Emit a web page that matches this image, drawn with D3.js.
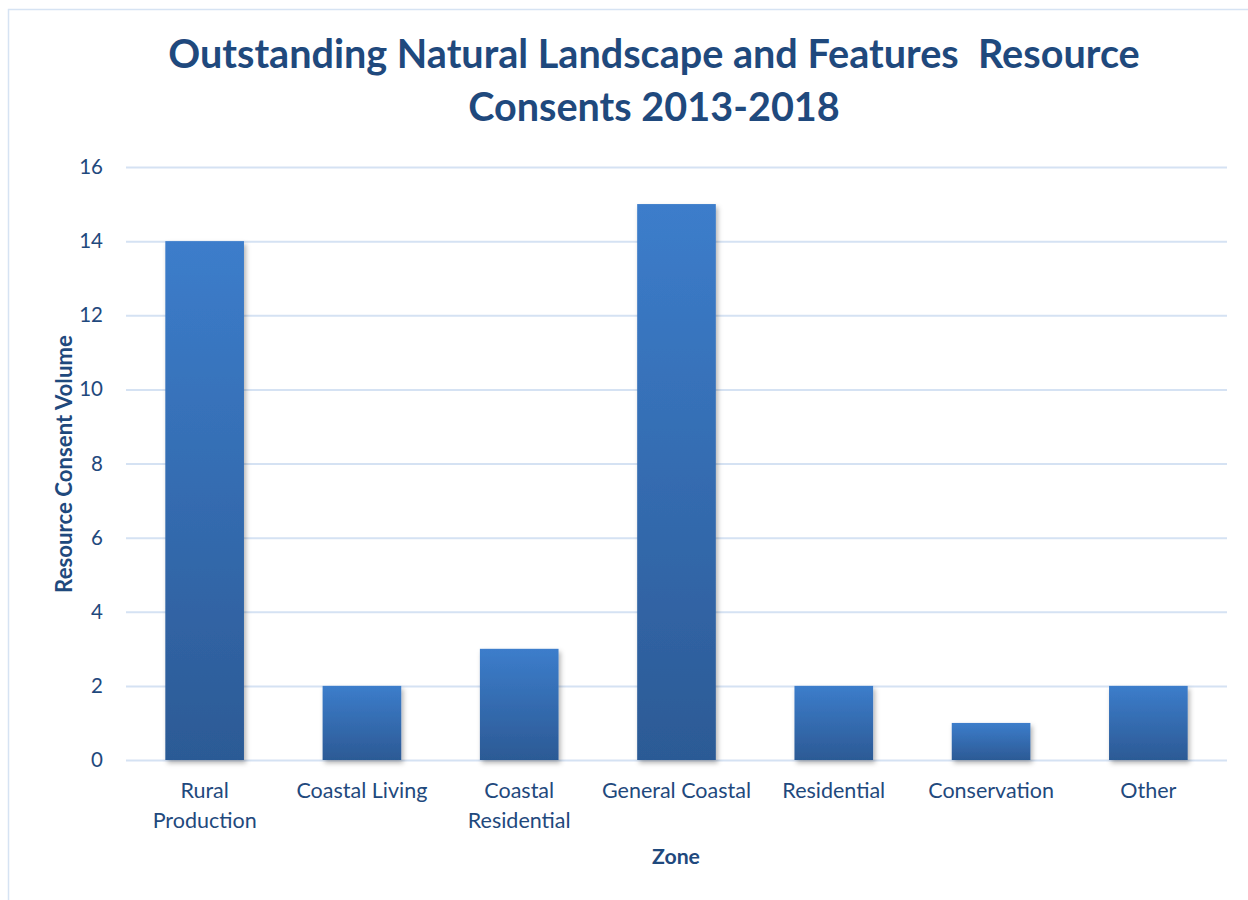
<!DOCTYPE html>
<html>
<head>
<meta charset="utf-8">
<script src="https://cdn.jsdelivr.net/npm/d3@7"></script>
<style>
  html, body { margin: 0; padding: 0; background: #fff; }
  svg { display: block; }
  text { font-family: Lato, "Open Sans", sans-serif; fill: #1F497D; }
</style>
</head>
<body>
<svg id="chart" width="1248" height="900"></svg>
<script>
// Resource consents by zone
const categories = ["Rural Production", "Coastal Living", "Coastal Residential", "General Coastal", "Residential", "Conservation", "Other"];
const categoryLines = [["Rural", "Production"], ["Coastal Living"], ["Coastal", "Residential"], ["General Coastal"], ["Residential"], ["Conservation"], ["Other"]];
const consents = [14, 2, 3, 15, 2, 1, 2];
const yTicks = [0, 2, 4, 6, 8, 10, 12, 14, 16];
const titleLines = ["Outstanding Natural Landscape and Features  Resource", "Consents 2013-2018"];
const yTitle = "Resource Consent Volume";
const xTitle = "Zone";

const svg = d3.select("#chart");
const W = 1248, H = 900;
const plot = { left: 126, right: 1227, top: 167, bottom: 760 };

// scale a text's font-size so its rendered width equals w
function fitWidth(sel, w) {
  const cur = parseFloat(sel.style("font-size"));
  const len = sel.node().getComputedTextLength();
  sel.style("font-size", (cur * w / len) + "px");
  return cur * w / len;
}

// outer frame
svg.append("rect")
  .attr("x", 8.5).attr("y", 9.5)
  .attr("width", W + 10).attr("height", H + 10)
  .attr("fill", "#fff")
  .attr("stroke", "#D6E3F3").attr("stroke-width", 1.5);

const defs = svg.append("defs");
const grad = defs.append("linearGradient")
  .attr("id", "barGrad").attr("x1", 0).attr("y1", 0).attr("x2", 0).attr("y2", 1);
grad.append("stop").attr("offset", "0%").attr("stop-color", "#3C7DCB");
grad.append("stop").attr("offset", "100%").attr("stop-color", "#2C5A95");

const shadow = defs.append("filter").attr("id", "barShadow")
  .attr("x", "-20%").attr("y", "-20%").attr("width", "150%").attr("height", "150%");
shadow.append("feDropShadow")
  .attr("dx", 2).attr("dy", 3).attr("stdDeviation", 2.5)
  .attr("flood-color", "#000").attr("flood-opacity", 0.3);

const x = d3.scaleBand()
  .domain(categories)
  .range([plot.left, plot.right])
  .paddingInner(0.5)
  .paddingOuter(0.25);

const y = d3.scaleLinear()
  .domain([0, 16])
  .range([plot.bottom, plot.top]);

// gridlines + tick labels
const yAxis = d3.axisLeft(y)
  .tickValues(yTicks)
  .tickSize(-(plot.right - plot.left))
  .tickPadding(23)
  .tickFormat(d3.format("d"));

const gy = svg.append("g")
  .attr("transform", `translate(${plot.left},0)`)
  .call(yAxis);
gy.select(".domain").remove();
gy.selectAll(".tick line").attr("stroke", "#D5E2F3").attr("stroke-width", 2);
gy.selectAll(".tick text")
  .attr("fill", "#1F497D")
  .style("font-size", "20.5px")
  .attr("font-family", "Lato, 'Open Sans', sans-serif");

// bars
svg.append("g").selectAll("rect")
  .data(consents)
  .join("rect")
  .attr("x", (d, i) => x(categories[i]))
  .attr("y", d => y(d))
  .attr("width", x.bandwidth())
  .attr("height", d => y(0) - y(d))
  .attr("fill", "url(#barGrad)")
  .attr("filter", "url(#barShadow)");

// category labels
const cat = svg.append("g");
categoryLines.forEach((lines, i) => {
  const cx = x(categories[i]) + x.bandwidth() / 2;
  const t = cat.append("text")
    .attr("text-anchor", "middle")
    .style("font-size", "21.5px");
  lines.forEach((ln, j) => {
    t.append("tspan").attr("x", cx).attr("y", 798 + j * 30).text(ln);
  });
});

// title
const titleSize = fitWidth(
  svg.append("text").attr("x", 654).attr("y", 68)
    .attr("text-anchor", "middle")
    .style("white-space", "pre")
    .style("font-weight", "bold").style("font-size", "36px")
    .text(titleLines[0]),
  972);
svg.append("text").attr("x", 654).attr("y", 121)
  .attr("text-anchor", "middle")
  .style("font-weight", "bold").style("font-size", titleSize + "px")
  .text(titleLines[1]);

// axis titles
fitWidth(
  svg.append("text")
    .attr("transform", "translate(72,464) rotate(-90)")
    .attr("text-anchor", "middle")
    .style("font-weight", "bold").style("font-size", "19px")
    .text(yTitle),
  258);

fitWidth(
  svg.append("text").attr("x", 676).attr("y", 864)
    .attr("text-anchor", "middle")
    .style("font-weight", "bold").style("font-size", "20px")
    .text(xTitle),
  48);
</script>
</body>
</html>
